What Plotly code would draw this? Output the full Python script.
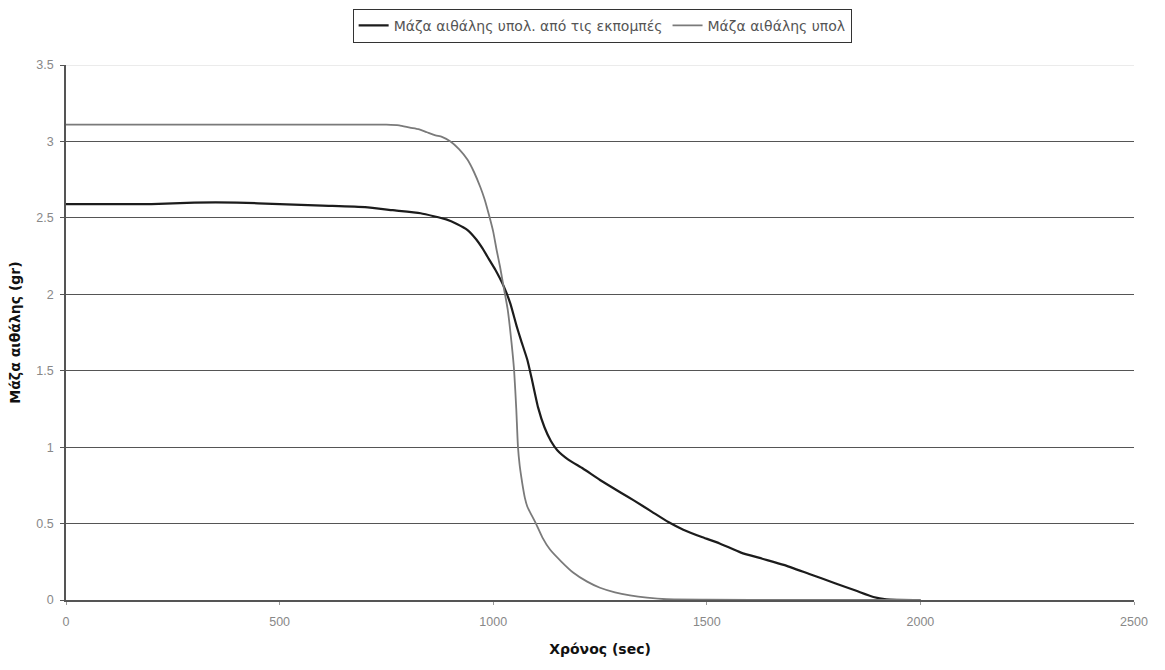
import plotly.graph_objects as go

# Soot mass computed from emissions (black curve)
t_emis = [0, 100, 200, 300, 400, 500, 600, 700, 765, 830, 890, 915, 940, 960, 975,
          990, 1005, 1025, 1040, 1055, 1065, 1080, 1090, 1105, 1120, 1135, 1150,
          1175, 1210, 1250, 1300, 1330, 1370, 1410, 1445, 1490, 1530, 1580, 1630,
          1680, 1740, 1800, 1850, 1890, 1920, 2000]
m_emis = [2.59, 2.59, 2.59, 2.60, 2.60, 2.59, 2.58, 2.57, 2.55, 2.53, 2.49, 2.46,
          2.42, 2.36, 2.30, 2.23, 2.16, 2.05, 1.94, 1.79, 1.70, 1.57, 1.45, 1.26,
          1.13, 1.04, 0.98, 0.92, 0.86, 0.785, 0.70, 0.65, 0.58, 0.51, 0.46, 0.41,
          0.37, 0.31, 0.27, 0.23, 0.17, 0.11, 0.06, 0.02, 0.005, 0.0]

# Soot mass computed (grey curve)
t_calc = [0, 200, 400, 600, 750, 780, 805, 825, 845, 865, 880, 900, 920, 940, 955,
          970, 980, 990, 1000, 1008, 1016, 1023, 1034, 1043, 1049, 1054, 1058, 1062,
          1066, 1070, 1074, 1080, 1087, 1100, 1115, 1133, 1160, 1187, 1220, 1250,
          1285, 1320, 1360, 1406, 1500, 1700, 2000]
m_calc = [3.11, 3.11, 3.11, 3.11, 3.11, 3.105, 3.09, 3.08, 3.06, 3.04, 3.03, 3.00,
          2.95, 2.88, 2.80, 2.70, 2.62, 2.52, 2.41, 2.29, 2.18, 2.07, 1.90, 1.68,
          1.50, 1.25, 1.00, 0.88, 0.80, 0.73, 0.67, 0.61, 0.57, 0.50, 0.41, 0.33,
          0.25, 0.18, 0.12, 0.08, 0.05, 0.03, 0.015, 0.005, 0.002, 0.0, 0.0]

x_ticks = [0, 500, 1000, 1500, 2000, 2500]
y_ticks = [0, 0.5, 1, 1.5, 2, 2.5, 3, 3.5]
y_tick_text = ["0", "0.5", "1", "1.5", "2", "2.5", "3", "3.5"]

fig = go.Figure()
fig.add_trace(go.Scatter(
    x=t_emis, y=m_emis, mode="lines", line=dict(color="#1c1c1c", width=2.2),
    name="Μάζα αιθάλης υπολ. από τις εκπομπές", line_shape="spline",
    line_smoothing=0.5))
fig.add_trace(go.Scatter(
    x=t_calc, y=m_calc, mode="lines", line=dict(color="#7a7a7a", width=1.8),
    name="Μάζα αιθάλης υπολ", line_shape="spline", line_smoothing=0.5))

# faint top border line of the plot area
fig.add_shape(type="line", xref="x", yref="y", x0=0, x1=2500, y0=3.5, y1=3.5,
              line=dict(color="#e4e4e4", width=1.5), layer="above")

fig.update_layout(
    width=1165, height=670,
    margin=dict(l=66, r=31, t=65, b=70, autoexpand=False),
    paper_bgcolor="white", plot_bgcolor="white",
    font=dict(family="Liberation Sans, Arial, sans-serif", size=12, color="#555"),
    legend=dict(orientation="h", x=0.502, xanchor="center", y=1.105, yanchor="top",
                bordercolor="#333", borderwidth=1, bgcolor="white",
                font=dict(family="DejaVu Sans, sans-serif", size=14, color="#555"),
                itemwidth=30, tracegroupgap=0),
    showlegend=True,
)
fig.update_xaxes(
    range=[0, 2500], tickvals=x_ticks, showgrid=False, zeroline=False,
    showline=True, linecolor="#555", linewidth=1.5,
    ticks="outside", ticklen=3, tickcolor="#999", ticklabelstandoff=6,
    tickfont=dict(color="#888", size=12.5),
    title=dict(text="<b>Χρόνος (sec)</b>", standoff=16,
               font=dict(family="DejaVu Sans, sans-serif", size=14, color="#111")),
)
fig.update_yaxes(
    range=[0, 3.5], tickvals=y_ticks, ticktext=y_tick_text,
    showgrid=True, gridcolor="#555", gridwidth=1, zeroline=False,
    showline=True, linecolor="#555", linewidth=1.5,
    ticks="outside", ticklen=4, tickcolor="#555", ticklabelstandoff=4,
    tickfont=dict(color="#888", size=12.5),
    title=dict(text="<b>Μάζα αιθάλης (gr)</b>", standoff=12,
               font=dict(family="DejaVu Sans, sans-serif", size=14, color="#111")),
)

fig.write_html("out.html")
